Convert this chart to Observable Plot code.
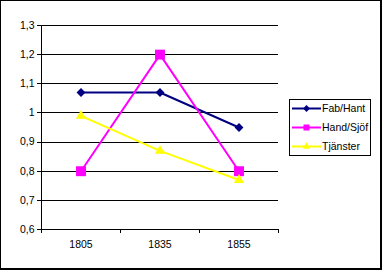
<!DOCTYPE html>
<html><head><meta charset="utf-8">
<script src="https://cdn.jsdelivr.net/npm/d3@7"></script>
<script src="https://cdn.jsdelivr.net/npm/@observablehq/plot@0.6"></script>
<style>
html,body{margin:0;padding:0;background:#fff;}
#wrap{position:relative;width:383px;height:271px;overflow:hidden;background:#fff;}
#wrap svg{position:absolute;left:0;top:0;}
#frame{position:absolute;left:0;top:0;width:382px;height:270px;box-sizing:border-box;border-style:solid;border-color:#000;border-width:1px 2px 2px 1px;pointer-events:none;}
</style></head><body><div id="wrap"><div id="frame"></div></div>
<script>
const categories = ["1805", "1835", "1855"];
const seriesNames = ["Fab/Hant", "Hand/Sjöf", "Tjänster"];
const fabHant = [1.07, 1.07, 0.95];
const handSjof = [0.80, 1.20, 0.80];
const tjanster = [0.99, 0.87, 0.77];
const yTicks = [0.6, 0.7, 0.8, 0.9, 1.0, 1.1, 1.2, 1.3];
const yTickLabels = ["0,6", "0,7", "0,8", "0,9", "1", "1,1", "1,2", "1,3"];

const seriesValues = [fabHant, handSjof, tjanster];
const colors = ["#000080", "#FF00FF", "#FFFF00"];
const symbols = ["diamond2", "square", "triangle"];
const radii = [4, 5.6, 3.8];
const legendSymbols = [d3.symbolDiamond2, d3.symbolSquare, d3.symbolTriangle];
const legendSizes = [30, 36, 24];

const rows = [];
seriesNames.forEach((s, si) => seriesValues[si].forEach((v, i) => rows.push({series: s, cat: categories[i], pos: i + 0.5, value: v})));
const bandEdges = d3.range(categories.length + 1);
const bandCenters = categories.map((c, i) => i + 0.5);

const marks = [
  Plot.ruleY(yTicks, {stroke: "#000", strokeWidth: 1, shapeRendering: "crispEdges"}),
  Plot.ruleX([0], {stroke: "#000", strokeWidth: 1, shapeRendering: "crispEdges"}),
  Plot.axisY({ticks: yTicks, tickFormat: d => yTickLabels[yTicks.indexOf(d)], tickSize: 4, tickPadding: 3, label: null, stroke: "#000", fill: "#000", shapeRendering: "crispEdges"}),
  Plot.axisX({ticks: bandEdges, tickFormat: () => "", tickSize: 4, label: null, stroke: "#000", shapeRendering: "crispEdges"}),
  Plot.axisX({ticks: bandCenters, tickFormat: d => categories[Math.floor(d)], tickSize: 0, tickPadding: 11, label: null, fill: "#000"})
];
seriesNames.forEach((s, si) => {
  marks.push(Plot.line(rows, {filter: d => d.series === s, x: "pos", y: "value", stroke: colors[si], strokeWidth: 2}));
  marks.push(Plot.dot(rows, {filter: d => d.series === s, x: "pos", y: "value", symbol: () => symbols[si], r: radii[si], fill: colors[si], stroke: "none"}));
});

const svg = Plot.plot({
  width: 383, height: 271,
  marginLeft: 41, marginRight: 105, marginTop: 25, marginBottom: 42,
  x: {type: "linear", domain: [0, categories.length]},
  y: {domain: [0.6, 1.3]},
  style: {fontFamily: "'Liberation Sans', Arial, sans-serif", fontSize: "10.5px", color: "#000", background: "#fff", overflow: "visible"},
  marks
});

// legend
const leg = d3.select(svg).append("g").attr("text-anchor", "start");
leg.append("rect").attr("x", 289.5).attr("y", 99.5).attr("width", 81).attr("height", 56)
  .attr("fill", "#fff").attr("stroke", "#000").attr("stroke-width", 1);
seriesNames.forEach((s, si) => {
  const cy = 108.5 + si * 19;
  const g = leg.append("g");
  g.append("line").attr("x1", 292).attr("x2", 321).attr("y1", cy).attr("y2", cy)
    .attr("stroke", colors[si]).attr("stroke-width", 2);
  g.append("path").attr("transform", `translate(306.5,${cy})`)
    .attr("d", d3.symbol(legendSymbols[si], legendSizes[si])()).attr("fill", colors[si]);
  g.append("text").attr("x", 322).attr("y", cy).attr("dy", "0.35em").attr("fill", "#000")
    .attr("text-anchor", "start")
    .style("font-family", "'Liberation Sans', Arial, sans-serif").style("font-size", "10.5px").text(s);
});

document.getElementById("wrap").insertBefore(svg, document.getElementById("frame"));
</script></body></html>
